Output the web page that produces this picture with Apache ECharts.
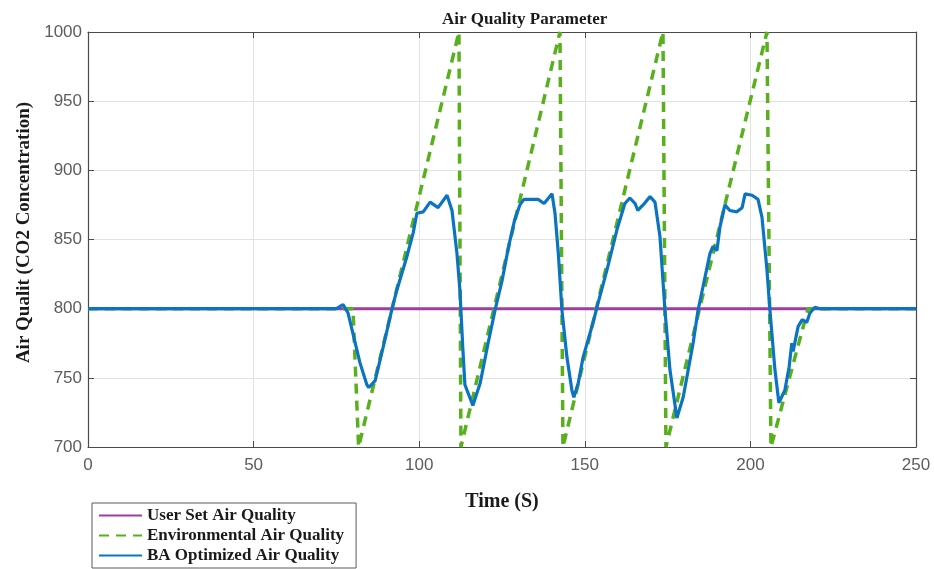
<!DOCTYPE html>
<html lang="en">
<head>
    <meta charset="UTF-8">
    <title>Air Quality Parameter</title>
    <style>
        html, body { margin: 0; padding: 0; background: #fff; }
    </style>
</head>
<body>
<div id="main" style="width: 934px;height:569px;"></div>

<script src="https://cdn.jsdelivr.net/npm/echarts@6/dist/echarts.min.js"></script>
<script>
    // x axis / y axis ticks
    var xTicks = [0, 50, 100, 150, 200, 250];
    var yTicks = [700, 750, 800, 850, 900, 950, 1000];

    // user set point (constant)
    var setTime = [0, 250];
    var setValue = [800, 800];

    // environmental air quality (sawtooth)
    var envTime = [0, 80, 81.7, 112, 112.6, 142.5, 143.4, 173.6, 174.5, 205, 206.2, 217.4, 250];
    var envValue = [800, 800, 700, 1000, 700, 1000, 700, 1000, 700, 1000, 700, 800, 800];

    // BA optimized air quality
    var baTime = [0, 75, 77, 78.5, 80, 82.1, 84.2, 84.8, 86.7, 89.1, 91.7, 93.2, 96.2, 98.2, 99.3,
        101.2, 103.3, 105.7, 108.4, 109.9, 111.4, 112.3, 113.2, 113.8, 116.2, 118.4, 120.8, 122.9,
        125, 127, 128.8, 130.4, 131.6, 135.9, 137.7, 140.1, 141, 142, 143.1, 144.6, 146.1, 146.7,
        148, 149.5, 152.5, 154, 156.7, 159.7, 162.1, 163.6, 165.2, 166, 167.6, 169.7, 171.2, 172.7,
        174.2, 175.7, 177.8, 179.7, 182.7, 184.2, 185.7, 187.8, 188.7, 189.9, 190.8, 192.3, 193.8,
        195.9, 197.5, 198.4, 200.5, 202.3, 203.5, 205, 205.9, 207.4, 208.6, 210.4, 211.7, 212.5,
        212.9, 213.8, 214.4, 215.6, 217, 218, 219.5, 221, 250];
    var baValue = [800, 800, 803, 797, 782, 761, 745, 743, 748, 772, 799, 813, 837, 855, 869,
        870, 877, 873, 882, 871, 840, 813, 770, 745, 730, 746, 775, 799,
        820, 845, 864, 875, 879, 879, 876, 883, 869, 840, 799, 765, 741, 736,
        746, 765, 790, 804, 828, 857, 876, 880, 876, 871, 875, 881, 877, 852,
        799, 756, 721, 736, 775, 799, 816, 840, 845, 842, 859, 875, 871,
        870, 873, 883, 882, 879, 866, 828, 799, 756, 732, 741, 758, 775,
        769, 780, 787, 792, 790, 797, 801, 800, 800];

    var zip = function (xs, ys) {
        var res = [];
        for (var i = 0; i < xs.length; i++) {
            res.push([xs[i], ys[i]]);
        }
        return res;
    };

    var serif = '"Liberation Serif", "Times New Roman", serif';
    var sans = '"Liberation Sans", Arial, sans-serif';
    var axisColor = '#4a4a4a';
    var plain = function (v) { return String(v); };

    var chart = echarts.init(document.getElementById('main'));
    chart.setOption({
        backgroundColor: '#fff',
        animation: false,
        title: {
            text: 'Air Quality Parameter',
            left: 437,
            top: 6,
            textStyle: {
                fontFamily: serif,
                fontWeight: 'bold',
                fontSize: 17,
                color: '#1a1a1a'
            }
        },
        grid: {
            left: 88,
            right: 18,
            top: 32,
            bottom: 122
        },
        legend: {
            orient: 'vertical',
            left: 92,
            top: 503,
            itemWidth: 43,
            itemHeight: 12,
            itemGap: 3,
            padding: [4, 12, 4, 6],
            borderColor: '#5a5a5a',
            borderWidth: 1,
            backgroundColor: '#fff',
            itemStyle: { color: 'transparent', borderWidth: 0, opacity: 0 },
            textStyle: {
                fontFamily: serif,
                fontWeight: 'bold',
                fontSize: 17,
                color: '#1a1a1a'
            },
            data: ['User Set Air Quality', 'Environmental Air Quality', 'BA Optimized Air Quality']
        },
        xAxis: [
            {
                type: 'value',
                min: xTicks[0],
                max: xTicks[xTicks.length - 1],
                interval: 50,
                name: 'Time (S)',
                nameLocation: 'middle',
                nameGap: 45,
                nameTextStyle: {
                    fontFamily: serif,
                    fontWeight: 'bold',
                    fontSize: 20,
                    color: '#1a1a1a'
                },
                axisLine: { lineStyle: { color: axisColor, width: 1.2 } },
                axisTick: { inside: true, length: 6, lineStyle: { color: axisColor } },
                axisLabel: { fontFamily: sans, fontSize: 17, color: '#5c5c5c', margin: 10, formatter: plain },
                splitLine: { show: true, lineStyle: { color: '#e2e2e2', width: 1 } }
            },
            {
                type: 'value',
                position: 'top',
                min: xTicks[0],
                max: xTicks[xTicks.length - 1],
                interval: 50,
                axisLine: { show: true, onZero: false, lineStyle: { color: axisColor, width: 1.2 } },
                axisTick: { show: true, inside: true, length: 6, lineStyle: { color: axisColor } },
                axisLabel: { show: false },
                splitLine: { show: false }
            }
        ],
        yAxis: [
            {
                type: 'value',
                min: yTicks[0],
                max: yTicks[yTicks.length - 1],
                interval: 50,
                name: 'Air Qualit (CO2 Concentration)',
                nameLocation: 'middle',
                nameGap: 54,
                nameTextStyle: {
                    fontFamily: serif,
                    fontWeight: 'bold',
                    fontSize: 19,
                    color: '#1a1a1a',
                    padding: [0, 0, 0, 14]
                },
                axisLine: { show: true, lineStyle: { color: axisColor, width: 1.2 } },
                axisTick: { show: true, inside: true, length: 6, lineStyle: { color: axisColor } },
                axisLabel: { fontFamily: sans, fontSize: 17, color: '#5c5c5c', margin: 6, formatter: plain },
                splitLine: { show: true, lineStyle: { color: '#e2e2e2', width: 1 } }
            },
            {
                type: 'value',
                position: 'right',
                min: yTicks[0],
                max: yTicks[yTicks.length - 1],
                interval: 50,
                axisLine: { show: true, onZero: false, lineStyle: { color: axisColor, width: 1.2 } },
                axisTick: { show: true, inside: true, length: 6, lineStyle: { color: axisColor } },
                axisLabel: { show: false },
                splitLine: { show: false }
            }
        ],
        series: [
            {
                name: 'User Set Air Quality',
                type: 'line',
                symbol: 'none',
                color: '#a03ca6',
                lineStyle: { color: '#a03ca6', width: 3 },
                data: zip(setTime, setValue),
                z: 2
            },
            {
                name: 'Environmental Air Quality',
                type: 'line',
                symbol: 'none',
                color: '#58b01c',
                clip: true,
                lineStyle: { color: '#58b01c', width: 3.5, type: [10, 7] },
                data: zip(envTime, envValue),
                z: 3
            },
            {
                name: 'BA Optimized Air Quality',
                type: 'line',
                symbol: 'none',
                color: '#0a74c2',
                lineStyle: { color: '#0a74c2', width: 3.2 },
                data: zip(baTime, baValue),
                z: 4
            }
        ]
    });
</script>
</body>
</html>
